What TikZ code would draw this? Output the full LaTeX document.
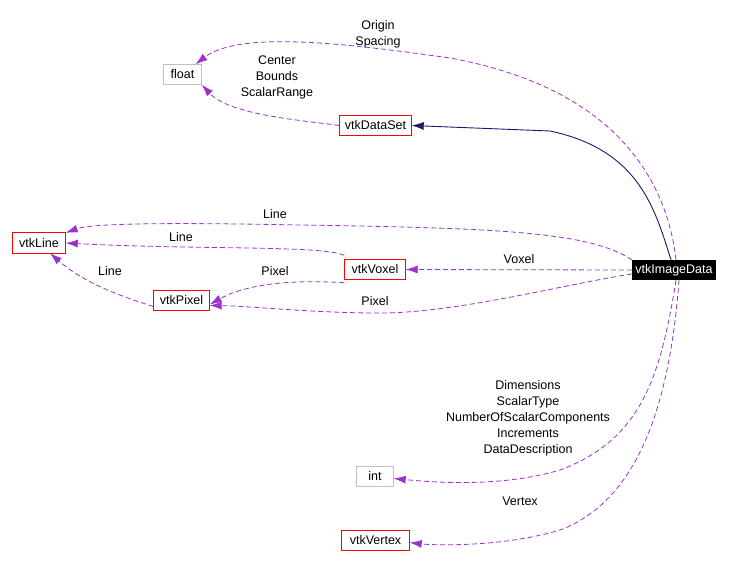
\documentclass[tikz,border=0pt]{standalone}
\usepackage{fontspec}
\setmainfont{Liberation Sans}
\usetikzlibrary{arrows.meta}
\definecolor{edgepurple}{HTML}{9A32CD}
\definecolor{edgenavy}{HTML}{191970}
\definecolor{boxred}{HTML}{FF0000}
\definecolor{boxgray}{HTML}{BFBFBF}
\begin{document}
\begin{tikzpicture}[x=1pt,y=-1pt,
  txt/.style={font=\fontsize{12.5}{16}\selectfont},
  box/.style={txt, inner sep=0pt, minimum height=20pt},
  blackbox/.style={box, fill=black, text=white},
  redframe/.style={draw=boxred, line width=1pt},
  grayframe/.style={draw=boxgray, line width=1pt},
  lbl/.style={txt, align=center, inner sep=0pt},
  dep/.style={color=edgepurple, dash pattern=on 5pt off 3pt, line width=0.8pt,
    -{Latex[length=12pt,width=8pt]}},
  inh/.style={color=edgenavy, line width=0.9pt,
    -{Latex[length=12pt,width=8pt]}}
]
\useasboundingbox (0,0) rectangle (733,565);
% nodes
\node[box, minimum width=72pt] (dataset) at (375.5,125.5) {vtkDataSet};
\node[box, minimum width=38pt] (fl) at (182.5,74.5) {float};
\node[box, minimum width=53pt] (ln) at (39,243) {vtkLine};
\node[box, minimum width=61pt] (vx) at (375,269.5) {vtkVoxel};
\node[box, minimum width=56pt] (px) at (181.5,300.5) {vtkPixel};
\node[blackbox, minimum width=84pt] (id) at (674,270) {vtkImageData};
\node[box, minimum width=37pt] (in) at (375,476.5) {int};
\node[box, minimum width=68pt] (vt) at (375.5,540.5) {vtkVertex};
\foreach \n in {dataset,ln,vx,px,vt}
  \draw[redframe] (\n.south west) rectangle (\n.north east);
\foreach \n in {fl,in}
  \draw[grayframe] (\n.south west) rectangle (\n.north east);
% labels
\node[lbl] (l1) at (378,34) {Origin\\Spacing};
\node[lbl] (l2) at (277,77) {Center\\Bounds\\ScalarRange};
\node[lbl] (l3) at (275,214) {Line};
\node[lbl] (l4) at (181,237) {Line};
\node[lbl] (l5) at (110,271) {Line};
\node[lbl] (l6) at (275,271) {Pixel};
\node[lbl] (l7) at (519,259) {Voxel};
\node[lbl] (l8) at (375,301) {Pixel};
\node[lbl] (l9) at (528,418) {Dimensions\\ScalarType\\NumberOfScalarComponents\\Increments\\DataDescription};
\node[lbl] (l10) at (520,501) {Vertex};
% connectors
\draw[inh] ([xshift=-3pt]id.north) .. controls (655,210) and (640,150) .. (550,131) -- (dataset.east);
\draw[dep] ([xshift=2pt]id.north) .. controls (668,190) and (625,90) .. (450,58)
   .. controls (350,44) and (240,30) .. ([xshift=13pt]fl.north);
\draw[dep] (dataset.west) .. controls (300,120) and (230,115) .. (fl.south east);
\draw[dep] (id.north west) .. controls (590,232) and (500,228) .. (300,225)
   .. controls (150,222) and (90,224) .. (ln.north east);
\draw[dep] ([yshift=4pt]vx.north west) .. controls (320,245) and (200,250) .. (ln.east);
\draw[dep] ([yshift=-6pt]px.west) .. controls (100,290) and (75,275) .. ([xshift=11pt]ln.south);
\draw[dep] ([yshift=-3pt]vx.south west) .. controls (300,280) and (250,282) .. ([yshift=-4pt]px.east);
\draw[dep] (id.west) -- (vx.east);
\draw[dep] ([yshift=-4pt]id.west) .. controls (560,285) and (450,315) .. (370,313)
   .. controls (300,312) and (250,306) .. ([yshift=-5pt]px.east);
\draw[dep] ([xshift=2pt]id.south) .. controls (660,380) and (640,440) .. (560,470)
   .. controls (500,488) and (430,482) .. ([yshift=-2pt]in.east);
\draw[dep] ([xshift=5pt]id.south) .. controls (670,400) and (640,500) .. (560,530)
   .. controls (500,548) and (430,545) .. ([yshift=-2pt]vt.east);
\end{tikzpicture}
\end{document}
